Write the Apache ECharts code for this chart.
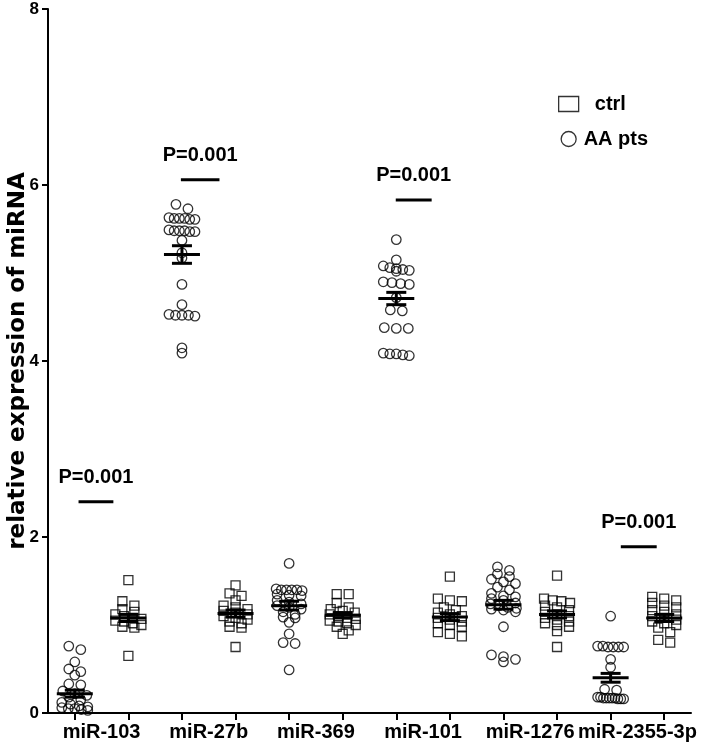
<!DOCTYPE html>
<html>
<head>
<meta charset="utf-8">
<script src="https://cdn.jsdelivr.net/npm/echarts@6/dist/echarts.min.js"></script>
<style>
html,body{margin:0;padding:0;background:#fff;}
#chart{width:709px;height:749px;}
</style>
</head>
<body>
<div id="chart"></div>
<script>
// miRNA names, one pair of columns (AA pts, ctrl) per name
var groupNames = ['miR-103','miR-27b','miR-369','miR-101','miR-1276','miR-2355-3p'];

// AA pts (circles)
var aaPts = [
	[0.76,0.72,0.58,0.50,0.47,0.43,0.33,0.32,0.25,0.22,0.20,0.18,0.15,0.12,0.10,0.08,0.07,0.06,0.05,0.05,0.04,0.03],
	[5.78,5.73,5.63,5.62,5.62,5.61,5.61,5.62,5.49,5.48,5.48,5.47,5.48,5.47,5.37,5.23,5.17,4.87,4.64,4.53,4.52,4.52,4.51,4.52,4.15,4.09],
	[1.70,1.41,1.40,1.40,1.40,1.40,1.39,1.35,1.34,1.33,1.28,1.26,1.24,1.22,1.20,1.18,1.15,1.12,1.09,1.08,1.03,0.90,0.80,0.79,0.49],
	[5.38,5.15,5.08,5.06,5.05,5.04,5.03,5.02,4.90,4.89,4.88,4.87,4.72,4.58,4.57,4.38,4.37,4.37,4.09,4.08,4.08,4.07,4.06],
	[1.66,1.62,1.58,1.55,1.52,1.49,1.47,1.43,1.40,1.36,1.33,1.32,1.30,1.28,1.25,1.24,1.22,1.20,1.19,1.18,1.17,1.15,0.98,0.66,0.64,0.61,0.58],
	[1.10,0.76,0.76,0.75,0.75,0.75,0.75,0.61,0.52,0.27,0.26,0.18,0.18,0.17,0.17,0.17,0.17,0.16,0.16,0.17,0.16]
];
// ctrl (squares)
var ctrl = [
	[1.51,1.27,1.22,1.18,1.15,1.12,1.10,1.08,1.07,1.05,1.04,1.02,1.00,0.98,0.97,0.65],
	[1.45,1.36,1.33,1.28,1.22,1.20,1.18,1.16,1.14,1.12,1.10,1.08,1.06,1.04,1.02,0.98,0.97,0.75],
	[1.35,1.35,1.25,1.20,1.18,1.16,1.14,1.12,1.10,1.08,1.07,1.05,1.04,1.02,1.00,0.98,0.94,0.90],
	[1.55,1.30,1.28,1.27,1.20,1.17,1.14,1.12,1.10,1.08,1.06,1.04,1.02,1.00,0.98,0.92,0.90,0.87],
	[1.56,1.30,1.28,1.27,1.25,1.22,1.20,1.17,1.15,1.12,1.10,1.08,1.06,1.04,1.02,1.00,0.98,0.93,0.75],
	[1.32,1.30,1.28,1.25,1.22,1.20,1.17,1.15,1.12,1.10,1.08,1.06,1.04,1.02,1.00,0.97,0.92,0.83,0.80]
];
// mean and SEM as drawn
var aaMean = [0.22,5.21,1.22,4.71,1.23,0.40];
var aaSem = [0.04,0.10,0.05,0.07,0.05,0.05];
var ctrlMean = [1.08,1.13,1.11,1.09,1.12,1.08];
var ctrlSem = [0.04,0.04,0.03,0.04,0.04,0.04];

// significance bars (x in column units, 0 = first column)
var pLabels = ['P=0.001','P=0.001','P=0.001','P=0.001'];
var pFrom = [0.07,1.98,5.99,10.19];
var pTo = [0.72,2.70,6.66,10.86];
var pY = [2.40,6.06,5.83,1.89];

var yTicks = [0,2,4,6,8];

var myChart = echarts.init(document.getElementById('chart'));
var font = 'Liberation Sans, Arial, sans-serif';

// columns: AA pts at 2g, ctrl at 2g+1; group label between them
var colTicks = [], labelPos = [];
for(var i=0;i<groupNames.length;i++){
	colTicks.push(2*i, 2*i+1);
	labelPos.push(2*i+0.5);
}

var option = {
	animation:false,
	grid:{left:48,right:18,top:9,bottom:36,containLabel:false,outerBoundsMode:'none'},
	legend:{
		orient:'vertical',left:553,top:89,itemWidth:20,itemHeight:15,itemGap:15,
		data:[{name:'ctrl',icon:'rect'},{name:'AA pts',icon:'circle'}],
		itemStyle:{color:'rgba(0,0,0,0)',borderColor:'#000',borderWidth:1.3},
		formatter:function(n){ return n=='ctrl' ? '  ctrl' : n; },
		textStyle:{fontFamily:font,fontWeight:'bold',fontSize:20,color:'#000'}
	},
	xAxis:{
		type:'value',min:-0.5,max:11.5,
		axisLine:{show:true,onZero:false,lineStyle:{color:'#000',width:2}},
		axisTick:{show:true,customValues:colTicks,length:7,lineStyle:{color:'#000',width:2}},
		axisLabel:{customValues:labelPos,margin:9,fontFamily:font,fontWeight:'bold',fontSize:20,color:'#000',
			formatter:function(v){ return groupNames[Math.round((v-0.5)/2)]; }},
		splitLine:{show:false}
	},
	yAxis:{
		type:'value',min:yTicks[0],max:yTicks[yTicks.length-1],interval:2,
		name:'relative expression of miRNA',nameLocation:'middle',nameGap:18,nameMoveOverlap:false,
		nameTextStyle:{fontFamily:'DejaVu Sans',fontWeight:'bold',fontSize:23,color:'#000'},
		axisLine:{show:true,onZero:false,lineStyle:{color:'#000',width:2}},
		axisTick:{show:true,length:6,lineStyle:{color:'#000',width:2}},
		axisLabel:{margin:9,fontFamily:font,fontWeight:'bold',fontSize:17,color:'#000'},
		splitLine:{show:false}
	},
	series:[]
};
myChart.setOption(option);

// pixel size of one unit on each axis, used to spread overlapping dots
var p0 = myChart.convertToPixel({gridIndex:0},[0,0]);
var p1 = myChart.convertToPixel({gridIndex:0},[1,1]);
var pxX = p1[0]-p0[0];
var pxY = p0[1]-p1[1];

// spread points with near-equal values side by side (scatter dot plot layout)
function swarm(vals,slot){
	var sorted = vals.slice().sort(function(a,b){return b-a;});
	var out = [], row = [];
	function flush(){
		var n = row.length;
		var step = n>1 ? Math.min(12,26/(n-1)) : 0;
		for(var k=0;k<n;k++) out.push([slot + (k-(n-1)/2)*step/pxX, row[k]]);
		row = [];
	}
	for(var i=0;i<sorted.length;i++){
		if(row.length && (row[0]-sorted[i])*pxY > 5) flush();
		row.push(sorted[i]);
	}
	flush();
	return out;
}

var aaData = [], ctrlData = [], meanData = [], sigData = [];
for(var g=0;g<groupNames.length;g++){
	aaData = aaData.concat(swarm(aaPts[g],2*g));
	ctrlData = ctrlData.concat(swarm(ctrl[g],2*g+1));
	meanData.push([2*g,aaMean[g],aaSem[g]]);
	meanData.push([2*g+1,ctrlMean[g],ctrlSem[g]]);
}
for(var s=0;s<pLabels.length;s++) sigData.push([pFrom[s],pTo[s],pY[s]]);

function renderMean(params,api){
	var x = api.value(0), m = api.value(1), e = api.value(2);
	var c = api.coord([x,m]), hi = api.coord([x,m+e]), lo = api.coord([x,m-e]);
	var st = {stroke:'#000',lineWidth:3};
	return {type:'group',children:[
		{type:'line',shape:{x1:c[0]-18,y1:c[1],x2:c[0]+18,y2:c[1]},style:st},
		{type:'line',shape:{x1:c[0],y1:hi[1],x2:c[0],y2:lo[1]},style:st},
		{type:'line',shape:{x1:c[0]-10,y1:hi[1],x2:c[0]+10,y2:hi[1]},style:st},
		{type:'line',shape:{x1:c[0]-10,y1:lo[1],x2:c[0]+10,y2:lo[1]},style:st}
	]};
}

function renderSig(params,api){
	var a = api.coord([api.value(0),api.value(2)]);
	var b = api.coord([api.value(1),api.value(2)]);
	return {type:'group',children:[
		{type:'line',shape:{x1:a[0],y1:a[1],x2:b[0],y2:b[1]},style:{stroke:'#000',lineWidth:3}},
		{type:'text',x:(a[0]+b[0])/2,y:a[1]-14,style:{text:pLabels[params.dataIndex],
			font:'bold 20px '+font,fill:'#000',align:'center',verticalAlign:'bottom'}}
	]};
}

var markerStyle = {color:'rgba(0,0,0,0)',borderColor:'#000',borderWidth:1.3};
myChart.setOption({
	series:[
		{name:'ctrl',type:'scatter',symbol:'rect',symbolSize:9,data:ctrlData,itemStyle:markerStyle,z:2},
		{name:'AA pts',type:'scatter',symbol:'circle',symbolSize:9.5,data:aaData,itemStyle:markerStyle,z:2},
		{type:'custom',renderItem:renderMean,data:meanData,z:5,clip:false},
		{type:'custom',renderItem:renderSig,data:sigData,z:5,clip:false}
	]
});
</script>
</body>
</html>
